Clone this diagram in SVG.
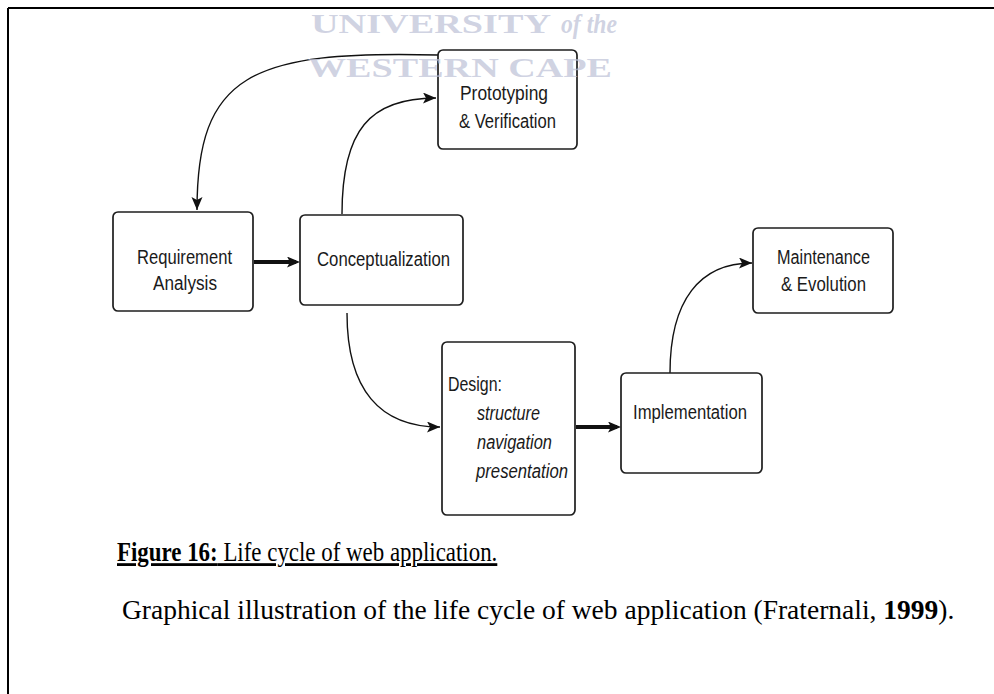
<svg xmlns="http://www.w3.org/2000/svg" width="994" height="694" viewBox="0 0 994 694">
<style>
.box{fill:#fff;stroke:#1e1e1e;stroke-width:1.7}
.lbl{font-family:"Liberation Sans",Arial,sans-serif;font-size:19.5px;fill:#1a1a1a}
.it{font-style:italic}
.conn{fill:none;stroke:#111;stroke-width:1.4}
.thick{fill:none;stroke:#111;stroke-width:4}
.cap{font-family:"Liberation Serif","Times New Roman",serif;fill:#000}
.wm{font-family:"Liberation Serif","Times New Roman",serif;font-weight:bold;font-size:28px;fill:#bcbfd6;fill-opacity:0.7}
</style>
<defs>
<marker id="arr" markerUnits="userSpaceOnUse" markerWidth="14" markerHeight="12" refX="13" refY="5.5" orient="auto">
<path d="M0,0 L13,5.5 L0,11 L3,5.5 z" fill="#111"/>
</marker>
<marker id="arrT" markerUnits="userSpaceOnUse" markerWidth="14" markerHeight="12" refX="9" refY="5.5" orient="auto">
<path d="M0,0 L13,5.5 L0,11 L3,5.5 z" fill="#111"/>
</marker>
</defs>
<rect width="994" height="694" fill="#fff"/>
<g id="frame" stroke="#000" stroke-width="2">
<line x1="8" y1="8" x2="994" y2="8"/>
<line x1="8" y1="8" x2="8" y2="694"/>
</g>
<g id="connectors">
<path class="thick" d="M254,262 H296" marker-end="url(#arrT)"/>
<path class="conn" d="M342,214 C342,130 370,98 436,98" marker-end="url(#arr)"/>
<path class="conn" d="M438,55 C250,50 197,75 197,210" marker-end="url(#arr)"/>
<path class="conn" d="M347,313 C347,390 380,427 440,427" marker-end="url(#arr)"/>
<path class="thick" d="M576,427 H617" marker-end="url(#arrT)"/>
<path class="conn" d="M670,373 C670,300 700,263 752,263" marker-end="url(#arr)"/>
</g>
<g id="requirement">
<rect class="box" x="113" y="212" width="140" height="99" rx="5"/>
<text class="lbl" x="137" y="264" textLength="95" lengthAdjust="spacingAndGlyphs">Requirement</text>
<text class="lbl" x="153" y="290" textLength="64" lengthAdjust="spacingAndGlyphs">Analysis</text>
</g>
<g id="conceptualization">
<rect class="box" x="300" y="215" width="163" height="90" rx="5"/>
<text class="lbl" x="317" y="266" textLength="133" lengthAdjust="spacingAndGlyphs">Conceptualization</text>
</g>
<g id="prototyping">
<rect class="box" x="438" y="50" width="139" height="99" rx="5"/>
<text class="lbl" x="460" y="100" textLength="88" lengthAdjust="spacingAndGlyphs">Prototyping</text>
<text class="lbl" x="459" y="128" textLength="97" lengthAdjust="spacingAndGlyphs">&amp; Verification</text>
</g>
<g id="maintenance">
<rect class="box" x="753" y="228" width="140" height="85" rx="5"/>
<text class="lbl" x="777" y="264" textLength="93" lengthAdjust="spacingAndGlyphs">Maintenance</text>
<text class="lbl" x="781" y="291" textLength="85" lengthAdjust="spacingAndGlyphs">&amp; Evolution</text>
</g>
<g id="design">
<rect class="box" x="442" y="342" width="133" height="173" rx="5"/>
<text class="lbl" x="448" y="391" textLength="54" lengthAdjust="spacingAndGlyphs">Design:</text>
<text class="lbl it" x="477" y="420" textLength="63" lengthAdjust="spacingAndGlyphs">structure</text>
<text class="lbl it" x="477" y="449" textLength="75" lengthAdjust="spacingAndGlyphs">navigation</text>
<text class="lbl it" x="476" y="478" textLength="92" lengthAdjust="spacingAndGlyphs">presentation</text>
</g>
<g id="implementation">
<rect class="box" x="621" y="373" width="141" height="100" rx="5"/>
<text class="lbl" x="633" y="419" textLength="114" lengthAdjust="spacingAndGlyphs">Implementation</text>
</g>
<g id="watermark">
<text class="wm" x="311" y="33" textLength="240" lengthAdjust="spacingAndGlyphs">UNIVERSITY</text>
<text class="wm" x="561" y="33" font-style="italic" font-size="24" textLength="56" lengthAdjust="spacingAndGlyphs">of the</text>
<text class="wm" x="308" y="77" textLength="304" lengthAdjust="spacingAndGlyphs">WESTERN CAPE</text>
</g>
<g id="caption">
<text class="cap" font-size="28" transform="translate(117,561) scale(0.818,1)" text-decoration="underline"><tspan font-weight="bold">Figure 16:</tspan> Life cycle of web application.</text>
<text class="cap" font-size="27.5" x="122" y="619">Graphical illustration of the life cycle of web application (Fraternali, <tspan font-weight="bold">1999</tspan>).</text>
</g>
</svg>
